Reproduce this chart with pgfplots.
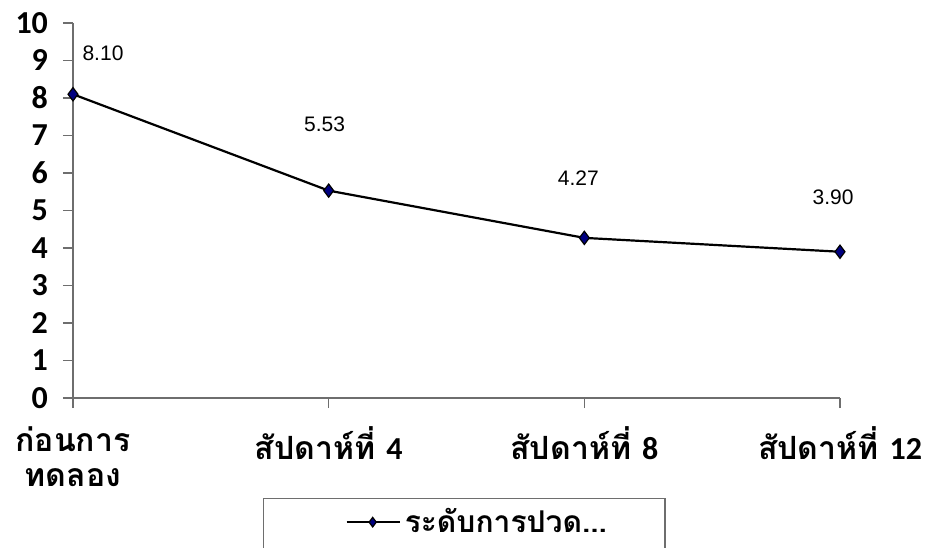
\documentclass[border=0pt]{standalone}
\usepackage{pgfplots}
\pgfplotsset{compat=1.18}
\usepackage{fontspec}
\setmainfont{Liberation Sans}
\newfontfamily\thaifont[Script=Thai]{Loma}
\newfontfamily\calib{Carlito}
\definecolor{navymark}{HTML}{000080}
\definecolor{axgray}{HTML}{6E6E6E}

% week, score, label offset (bp)
\pgfplotstableread{
x y dx dy
0 8.10 15 20.5
1 5.53 -2 33
2 4.27 -3 30
3 3.90 -3.5 27
}\pain

\begin{document}
\begin{tikzpicture}
\useasboundingbox (-36.5bp,-75bp) rectangle (427bp,199bp);
\clip (-36.5bp,-75bp) rectangle (427bp,199bp);
\begin{axis}[
  scale only axis,
  width=383.5bp, height=187.5bp,
  xmin=0, xmax=3, ymin=0, ymax=10,
  axis x line=bottom, axis y line=left,
  axis line style={-, draw=axgray, line width=0.6bp},
  tick align=outside,
  major tick length=5bp,
  tick style={draw=axgray, line width=0.6bp},
  xtick={0,1,2,3},
  xticklabels={{ก่อนการ\\ทดลอง},{สัปดาห์ที่ {\calib 4}},{สัปดาห์ที่ {\calib 8}},{สัปดาห์ที่ {\calib 12}}},
  xticklabel style={align=center, yshift=-6bp, font=\thaifont\bfseries\fontsize{16bp}{17.5bp}\selectfont},
  ytick={0,1,...,10},
  /pgf/number format/assume math mode=true,
  yticklabel style={xshift=-4bp, font=\calib\bfseries\fontsize{16bp}{18bp}\selectfont},
  nodes near coords,
  point meta=explicit,
  visualization depends on={\thisrow{dx} \as \dx},
  visualization depends on={\thisrow{dy} \as \dy},
  nodes near coords={\pgfmathprintnumber[fixed, fixed zerofill, precision=2]{\pgfplotspointmeta}},
  every node near coord/.append style={anchor=center, xshift=\dx bp, yshift=\dy bp,
    font=\fontsize{10.5bp}{12bp}\selectfont, text=black},
  legend style={at={(axis description cs:0.2477,-0.2667)}, anchor=north west,
    draw=axgray, line width=0.6bp, inner xsep=27bp, inner ysep=3bp,
    font=\thaifont\bfseries\fontsize{15bp}{17bp}\selectfont},
  legend image code/.code={
    \path (0bp,0bp) (0bp,-22bp);
    \draw[#1, mark=none] (14bp,0bp) -- (40.5bp,0bp);
    \draw[#1, mark size=2.4bp, only marks] plot coordinates {(27bp,0bp)};
  },
]
\addplot[black, line width=1.1bp, mark=diamond*, mark size=3.3bp,
  mark options={fill=navymark, draw=black, line width=0.6bp}]
  table[x=x, y=y, meta=y] {\pain};
\addlegendentry{ระดับการปวด...}
\end{axis}
\end{tikzpicture}
\end{document}
